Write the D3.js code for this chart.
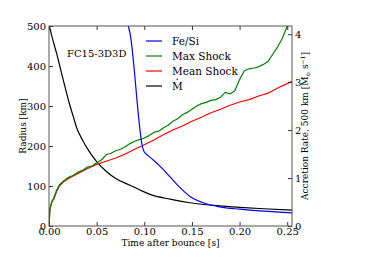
<!DOCTYPE html>
<html>
<head>
<meta charset="utf-8">
<script src="https://cdn.jsdelivr.net/npm/d3@7"></script>
<style>
  body { margin: 0; background: #fff; }
  svg text { font-family: "DejaVu Serif"; fill: #000; }
</style>
</head>
<body>
<div id="canvas"></div>
<script>
// time after bounce [s] and radius [km] for each curve
const feSiT = [0.0832, 0.085, 0.0955, 0.0973, 0.0997, 0.104, 0.1094, 0.118, 0.127, 0.1375, 0.148, 0.162, 0.179, 0.2, 0.225, 0.255];
const feSiR = [500, 482, 240, 207, 186, 176, 165, 146, 123, 96, 74, 58, 48, 42, 37, 33];

const maxT = [0, 0.001, 0.003, 0.005, 0.008, 0.011, 0.015, 0.02, 0.025, 0.03, 0.035, 0.04, 0.045, 0.05, 0.055, 0.06, 0.065, 0.07, 0.075, 0.08, 0.085, 0.09, 0.095, 0.1, 0.105, 0.11, 0.115, 0.12, 0.125, 0.13, 0.135, 0.14, 0.145, 0.15, 0.155, 0.16, 0.165, 0.17, 0.175, 0.18, 0.185, 0.19, 0.195, 0.2, 0.205, 0.21, 0.215, 0.22, 0.225, 0.23, 0.235, 0.24, 0.245, 0.25, 0.253];
const maxR = [0, 42, 62, 70, 90, 103, 112, 121, 126, 134, 139, 147, 150, 158, 165, 178, 182, 188, 192, 198, 206, 212, 216, 220, 226, 234, 237, 245, 252, 262, 268, 278, 284, 292, 300, 306, 309, 314, 316, 322, 334, 330, 338, 366, 388, 393, 395, 398, 404, 412, 430, 448, 470, 500, 512];

const meanT = [0, 0.001, 0.003, 0.005, 0.008, 0.011, 0.015, 0.02, 0.03, 0.04, 0.05, 0.06, 0.07, 0.08, 0.09, 0.1, 0.11, 0.12, 0.13, 0.14, 0.15, 0.16, 0.17, 0.18, 0.19, 0.2, 0.21, 0.22, 0.23, 0.24, 0.25, 0.255];
const meanR = [0, 42, 60, 67, 86, 100, 110, 118, 131, 143, 154, 162, 170, 180, 192, 203, 215, 228, 240, 250, 262, 272, 283, 292, 302, 310, 316, 325, 332, 345, 356, 362];

// accretion rate at 500 km [Msun/s]
const mdotT = [0, 0.004, 0.008, 0.0125, 0.0168, 0.021, 0.0255, 0.029, 0.035, 0.042, 0.05, 0.06, 0.07, 0.085, 0.0955, 0.106, 0.127, 0.148, 0.179, 0.2, 0.225, 0.255];
const mdotV = [4.2, 3.88, 3.6, 3.24, 2.9, 2.58, 2.28, 2.05, 1.8, 1.56, 1.34, 1.14, 0.99, 0.85, 0.75, 0.66, 0.56, 0.485, 0.42, 0.39, 0.36, 0.33];

const xTicks = [0, 0.05, 0.1, 0.15, 0.2, 0.25];
const yTicks = [0, 100, 200, 300, 400, 500];
const y2Ticks = [0, 1, 2, 3, 4];

const legendNames = ["Fe/Si", "Max Shock", "Mean Shock", "M"];
const legendColors = ["#0000ff", "#008000", "#ff0000", "#000000"];

const width = 390;
const height = 260;
const margin = {top: 26, left: 49, bottom: 34, right: 98};
const iwidth = width - margin.left - margin.right;
const iheight = height - margin.top - margin.bottom;

const svg = d3.select("#canvas").append("svg")
    .attr("width", width)
    .attr("height", height)
    .attr("font-family", "DejaVu Serif");

const g = svg.append("g").attr("transform", `translate(${margin.left}, ${margin.top})`);

const x = d3.scaleLinear().domain([0, 0.255]).range([0, iwidth]);
const y = d3.scaleLinear().domain([0, 500]).range([iheight, 0]);
const y2 = d3.scaleLinear().domain([0, 4.17]).range([iheight, 0]);

svg.append("clipPath").attr("id", "clip")
    .append("rect").attr("width", iwidth).attr("height", iheight);

const plot = g.append("g").attr("clip-path", "url(#clip)");

function draw(ts, vs, scale, color, curve) {
    const line = d3.line().x(d => x(d[0])).y(d => scale(d[1])).curve(curve);
    plot.append("path")
        .datum(ts.map((t, i) => [t, vs[i]]))
        .attr("fill", "none")
        .attr("stroke", color)
        .attr("stroke-width", 1.2)
        .attr("stroke-linejoin", "round")
        .attr("d", line);
}

draw(mdotT, mdotV, y2, "#000000", d3.curveMonotoneX);
draw(meanT, meanR, y, "#ff0000", d3.curveLinear);
draw(maxT, maxR, y, "#008000", d3.curveLinear);
draw(feSiT, feSiR, y, "#0000ff", d3.curveMonotoneX);

// axes, ticks pointing inward
function styleAxis(sel) {
    sel.attr("font-family", "DejaVu Serif");
    sel.select(".domain").remove();
    sel.selectAll("line").attr("stroke", "#000").attr("stroke-width", 0.8);
    sel.selectAll("text").style("font-size", "10px");
}

g.append("g")
    .attr("transform", `translate(0, ${iheight})`)
    .call(d3.axisBottom(x).tickValues(xTicks).tickFormat(d3.format(".2f")).tickSizeInner(-4).tickPadding(2))
    .call(styleAxis);

g.append("g")
    .call(d3.axisTop(x).tickValues(xTicks).tickFormat("").tickSizeInner(-4))
    .call(styleAxis);

g.append("g")
    .call(d3.axisLeft(y).tickValues(yTicks).tickSizeInner(-4).tickPadding(3))
    .call(styleAxis);

g.append("g")
    .attr("transform", `translate(${iwidth}, 0)`)
    .call(d3.axisRight(y2).tickValues(y2Ticks).tickFormat(d3.format("d")).tickSizeInner(-4).tickPadding(3))
    .call(styleAxis);

g.append("rect")
    .attr("width", iwidth)
    .attr("height", iheight)
    .attr("fill", "none")
    .attr("stroke", "#555")
    .attr("stroke-width", 1);

// legend
const legend = g.append("g").attr("transform", "translate(97, 15)");
legendNames.forEach((name, i) => {
    legend.append("line")
        .attr("x1", 0).attr("x2", 16)
        .attr("y1", i * 15).attr("y2", i * 15)
        .attr("stroke", legendColors[i])
        .attr("stroke-width", 1.2);
    legend.append("text")
        .attr("x", 26)
        .attr("y", i * 15 + 3.5)
        .style("font-size", "10.5px")
        .text(name);
});
// dot over the M (mass accretion rate)
legend.append("circle")
    .attr("cx", 31.2)
    .attr("cy", 45 - 6.8)
    .attr("r", 0.7)
    .attr("fill", "#000");

g.append("text")
    .attr("x", 18)
    .attr("y", 30.5)
    .style("font-size", "10px")
    .text("FC15-3D3D");

// axis labels
svg.append("text")
    .attr("text-anchor", "middle")
    .attr("x", margin.left + iwidth / 2)
    .attr("y", 246)
    .style("font-size", "9px")
    .text("Time after bounce [s]");

svg.append("text")
    .attr("text-anchor", "middle")
    .attr("transform", "translate(26, 126) rotate(-90)")
    .style("font-size", "9px")
    .text("Radius [km]");

const rlab = svg.append("text")
    .attr("text-anchor", "middle")
    .attr("transform", "translate(308, 126) rotate(-90)")
    .style("font-size", "9px");
rlab.append("tspan").text("Accretion Rate, 500 km [M");
rlab.append("tspan").attr("dy", 2).style("font-size", "5.5px").text("\u2299");
rlab.append("tspan").attr("dy", -2).text(" s");
rlab.append("tspan").attr("dy", -3).style("font-size", "6px").text("\u22121");
rlab.append("tspan").attr("dy", 3).text("]");
</script>
</body>
</html>
